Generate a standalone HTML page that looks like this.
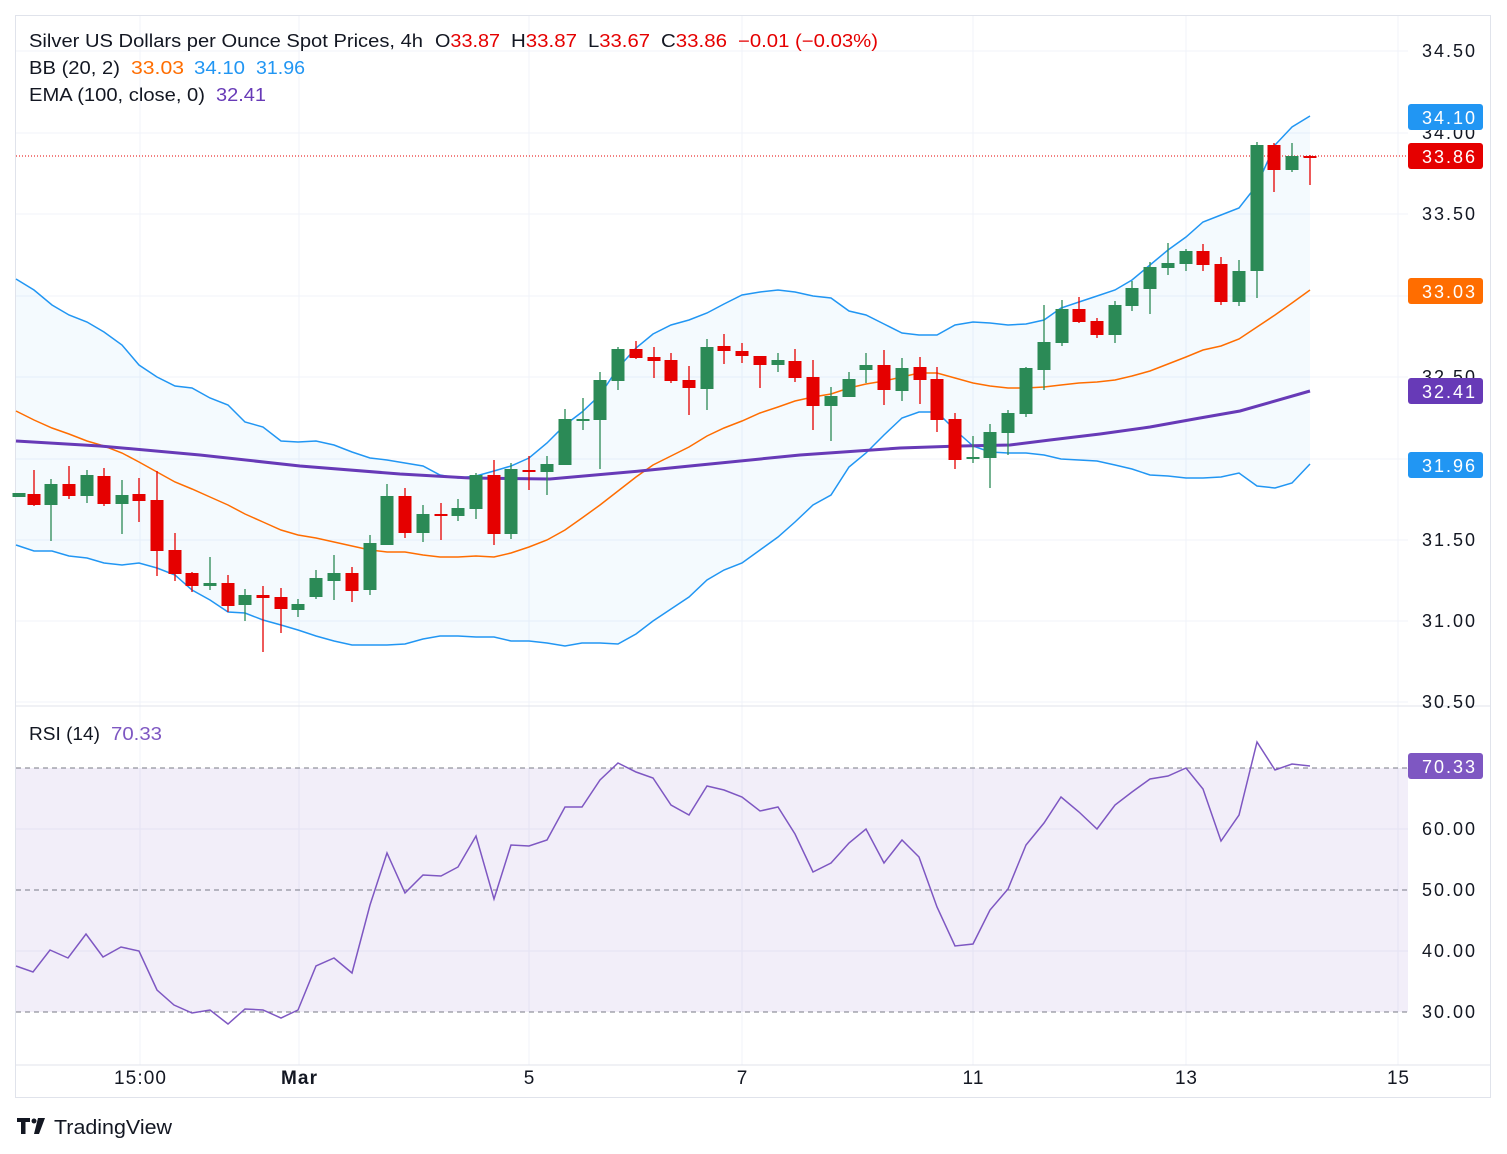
<!DOCTYPE html>
<html><head><meta charset="utf-8"><style>
html,body{margin:0;padding:0;background:#fff;}
svg{display:block;font-family:"Liberation Sans",sans-serif;}
</style></head><body>
<svg id="s" width="1507" height="1154" viewBox="0 0 1507 1154" xmlns="http://www.w3.org/2000/svg">
<rect x="15.5" y="15.5" width="1475" height="1082" fill="#fff" stroke="#e0e3eb"/>
<g id="grid" stroke="#f0f3fa" stroke-width="1"></g>
<g id="main"></g>
<line x1="16" y1="706" x2="1490" y2="706" stroke="#e0e3eb"/>
<line x1="16" y1="1065" x2="1490" y2="1065" stroke="#e0e3eb"/>
<g font-size="18" fill="#131722" lengthAdjust="spacingAndGlyphs">
<text x="29" y="47" textLength="394" lengthAdjust="spacingAndGlyphs">Silver US Dollars per Ounce Spot Prices, 4h</text>
<text x="435" y="47" textLength="65" lengthAdjust="spacingAndGlyphs">O<tspan fill="#e50000">33.87</tspan></text>
<text x="511" y="47" textLength="66" lengthAdjust="spacingAndGlyphs">H<tspan fill="#e50000">33.87</tspan></text>
<text x="588" y="47" textLength="62" lengthAdjust="spacingAndGlyphs">L<tspan fill="#e50000">33.67</tspan></text>
<text x="661" y="47" textLength="66" lengthAdjust="spacingAndGlyphs">C<tspan fill="#e50000">33.86</tspan></text>
<text x="738" y="47" fill="#e50000" textLength="140" lengthAdjust="spacingAndGlyphs">−0.01 (−0.03%)</text>
<text x="29" y="74" textLength="91" lengthAdjust="spacingAndGlyphs">BB (20, 2)</text>
<text x="131" y="74" fill="#ff6d00" textLength="53" lengthAdjust="spacingAndGlyphs">33.03</text>
<text x="194" y="74" fill="#2196f3" textLength="51" lengthAdjust="spacingAndGlyphs">34.10</text>
<text x="256" y="74" fill="#2196f3" textLength="49" lengthAdjust="spacingAndGlyphs">31.96</text>
<text x="29" y="101" textLength="176" lengthAdjust="spacingAndGlyphs">EMA (100, close, 0)</text>
<text x="216" y="101" fill="#673ab7" textLength="50" lengthAdjust="spacingAndGlyphs">32.41</text>
<text x="29" y="740" textLength="71" lengthAdjust="spacingAndGlyphs">RSI (14)</text>
<text x="111" y="740" fill="#7e57c2" textLength="51" lengthAdjust="spacingAndGlyphs">70.33</text>
</g>
<g font-size="18" fill="#131722">
<text x="1422" y="57" textLength="53">34.50</text><text x="1422" y="139" textLength="53">34.00</text><text x="1422" y="220" textLength="53">33.50</text>
<text x="1422" y="383" textLength="53">32.50</text><text x="1422" y="465" textLength="53">32.00</text><text x="1422" y="546" textLength="53">31.50</text>
<text x="1422" y="627" textLength="53">31.00</text><text x="1422" y="708" textLength="53">30.50</text>
<text x="1422" y="835" textLength="53">60.00</text><text x="1422" y="896" textLength="53">50.00</text><text x="1422" y="957" textLength="53">40.00</text><text x="1422" y="1018" textLength="53">30.00</text>
</g>
<g font-size="18" fill="#fff">
<rect x="1408" y="104" width="75" height="26" rx="3" fill="#2196f3"/><text x="1422" y="124" textLength="53">34.10</text>
<rect x="1408" y="143" width="75" height="26" rx="3" fill="#e50000"/><text x="1422" y="163" textLength="53">33.86</text>
<rect x="1408" y="278" width="75" height="26" rx="3" fill="#ff6d00"/><text x="1422" y="298" textLength="53">33.03</text>
<rect x="1408" y="378" width="75" height="26" rx="3" fill="#673ab7"/><text x="1422" y="398" textLength="53">32.41</text>
<rect x="1408" y="452" width="75" height="26" rx="3" fill="#2196f3"/><text x="1422" y="472" textLength="53">31.96</text>
<rect x="1408" y="753" width="75" height="26" rx="3" fill="#7e57c2"/><text x="1422" y="773" textLength="53">70.33</text>
</g>
<g font-size="19" fill="#131722" text-anchor="middle">
<text x="140" y="1084" textLength="52">15:00</text><text x="299" y="1084" font-weight="bold" textLength="36">Mar</text><text x="529" y="1084">5</text>
<text x="742" y="1084">7</text><text x="973" y="1084" textLength="21">11</text><text x="1186" y="1084" textLength="22">13</text><text x="1398" y="1084" textLength="22">15</text>
</g>
<g fill="#131722"><path d="M17 1118h13v4h-4.5v12h-4.5v-12h-4z"/><circle cx="34" cy="1121" r="2.5"/><path d="M38 1118h7l-6 16h-5z"/></g>
<text x="54" y="1134" font-size="20" fill="#131722" textLength="118" lengthAdjust="spacingAndGlyphs">TradingView</text>
</svg>
<script>
const NS="http://www.w3.org/2000/svg";
function el(p,t,a){const e=document.createElementNS(NS,t);for(const k in a)e.setAttribute(k,a[k]);p.appendChild(e);return e;}
const g=document.getElementById('grid'),m=document.getElementById('main');
[51,133,214,296,377,459,540,621,702,829,951].forEach(y=>el(g,'line',{x1:16,x2:1408,y1:y,y2:y}));
[140,299,529,742,973,1186,1398].forEach(x=>el(g,'line',{x1:x,x2:x,y1:16,y2:1065}));
const X=[16,34,52,69,87,104,122,139,157,175,192,210,228,245,263,281,298,316,334,352,370,387,405,423,440,458,476,494,511,529,547,565,582,600,618,636,653,671,689,707,724,742,760,778,795,813,831,849,866,884,902,919,937,955,973,990,1008,1026,1044,1061,1079,1097,1115,1132,1150,1168,1186,1203,1221,1239,1257,1275,1292,1310];
const U=[279,290,305,315,322,332,345,365,377,386,388,398,405,422,427,441,442,441,445,452,458,460,463,466,475,478,476,471,466,458,443,425,412,395,368,348,334,325,320,313,304,295,292,290,292,296,298,311,315,324,333,335,335,325,322,323,325,324,320,308,302,296,290,280,265,250,237,222,215,208,185,145,127,116];
const L=[545,551,551,556,558,563,565,563,568,575,590,600,612,613,620,625,630,636,641,645,645,645,644,639,636,636,637,637,641,641,643,646,643,643,644,634,621,609,597,580,570,563,550,537,522,505,495,467,453,435,418,412,412,430,446,452,453,453,455,459,460,461,465,469,475,476,478,478,477,473,486,488,483,464];
const M=[411,420,428,434,441,446,453,462,472,482,489,497,505,514,522,530,535,538,542,546,550,552,552,555,557,557,556,557,553,547,540,530,518,505,491,477,465,456,447,436,428,421,413,407,401,397,394,388,384,381,377,373,373,378,383,386,388,388,387,385,383,382,380,376,371,364,357,350,346,339,327,315,303,290];
function pts(xs,ys){return xs.map((x,i)=>x+','+ys[i]).join(' ');}
const n=Math.min(X.length,U.length,L.length);
let fill=[];for(let i=0;i<n;i++)fill.push(X[i]+','+U[i]);for(let i=n-1;i>=0;i--)fill.push(X[i]+','+L[i]);
el(m,'polygon',{points:fill.join(' '),fill:'rgba(33,150,243,0.05)'});
el(m,'rect',{x:16,y:768,width:1392,height:244,fill:'rgba(126,87,194,0.1)'});
[768,890,1012].forEach(y=>el(m,'line',{x1:16,x2:1408,y1:y,y2:y,stroke:'#787b86','stroke-dasharray':'5,4','stroke-width':1}));
el(m,'polyline',{points:pts(X.slice(0,n),U.slice(0,n)),fill:'none',stroke:'#2196f3','stroke-width':1.5});
el(m,'polyline',{points:pts(X.slice(0,n),L.slice(0,n)),fill:'none',stroke:'#2196f3','stroke-width':1.5});
el(m,'polyline',{points:pts(X.slice(0,M.length),M),fill:'none',stroke:'#ff6d00','stroke-width':1.5});
const E=[[16,441],[100,446],[200,455],[300,466],[400,474],[470,478],[550,479],[640,471],[700,465],[800,455],[900,448],[960,446],[1010,445],[1050,440],[1100,434],[1150,427],[1200,418],[1240,411],[1310,391]];
el(m,'polyline',{points:E.map(p=>p.join(',')).join(' '),fill:'none',stroke:'#673ab7','stroke-width':3});
el(m,'line',{x1:16,x2:1408,y1:156,y2:156,stroke:'#e50000','stroke-dasharray':'1,2','stroke-width':1});
const C=[[19,493,497,493,497,1],[34,494,505,470,506,0],[51,484,505,479,541,1],[69,484,496,466,499,0],[87,475,496,470,503,1],[104,476,504,468,506,0],[122,495,504,480,534,1],[139,494,501,478,522,0],[157,500,551,471,576,0],[175,550,574,533,581,0],[192,573,586,572,592,0],[210,583,586,557,590,1],[228,583,606,575,612,0],[245,595,605,589,621,1],[263,595,598,586,652,0],[281,597,609,588,633,0],[298,604,610,599,617,1],[316,578,597,570,599,1],[334,573,581,555,600,1],[352,573,591,567,602,0],[370,543,590,535,595,1],[387,496,545,484,545,1],[405,496,533,488,538,0],[423,514,533,505,542,1],[441,514,516,503,540,0],[458,508,516,499,521,1],[476,475,509,473,519,1],[494,475,534,460,545,0],[511,469,534,463,539,1],[529,470,472,456,490,0],[547,464,472,456,495,1],[565,419,465,409,465,1],[583,419,420,398,430,1],[600,380,420,372,469,1],[618,349,381,347,390,1],[636,349,358,341,359,0],[654,357,361,347,378,0],[671,360,381,353,383,0],[689,380,388,366,415,0],[707,347,389,339,410,1],[724,346,351,334,364,0],[742,351,356,343,363,0],[760,356,365,356,388,0],[778,360,365,353,372,1],[795,361,378,349,382,0],[813,377,406,360,430,0],[831,396,406,387,441,1],[849,379,397,372,397,1],[866,365,370,353,383,1],[884,365,390,350,405,0],[902,368,391,358,401,1],[920,367,380,357,404,0],[937,379,420,367,432,0],[955,419,460,413,469,0],[973,457,458,436,463,1],[990,432,458,424,488,1],[1008,413,433,410,455,1],[1026,368,414,367,417,1],[1044,342,370,305,390,1],[1062,309,343,300,346,1],[1079,309,322,297,323,0],[1097,321,335,318,338,0],[1115,305,335,301,343,1],[1132,288,306,281,311,1],[1150,267,289,262,314,1],[1168,263,268,243,275,1],[1186,251,264,249,271,1],[1203,251,265,244,271,0],[1221,264,302,257,305,0],[1239,271,302,260,306,1],[1257,145,271,142,298,1],[1274,145,170,143,192,0],[1292,156,170,143,172,1],[1310,156,157,155,185,0]];
C.forEach(c=>{const col=c[5]?'#2b8a56':'#e50000';
el(m,'line',{x1:c[0],x2:c[0],y1:c[3],y2:c[4],stroke:col,'stroke-width':1.3});
el(m,'rect',{x:c[0]-6.5,y:c[1],width:13,height:Math.max(2,c[2]-c[1]),fill:col});});
const R=[[16,966],[33,972],[50,950],[68,958],[86,934],[103,957],[121,947],[139,951],[157,990],[174,1005],[192,1013],[210,1010],[228,1024],[245,1009],[263,1010],[281,1018],[298,1010],[316,966],[334,958],[352,973],[370,905],[387,853],[405,893],[423,875],[441,876],[458,867],[476,836],[494,899],[511,845],[529,846],[547,840],[565,807],[582,807],[600,780],[618,763],[636,772],[653,778],[671,805],[689,815],[707,786],[724,790],[742,797],[760,811],[778,807],[795,834],[813,872],[831,863],[849,843],[866,829],[884,863],[902,840],[919,857],[937,907],[955,946],[973,944],[990,910],[1008,889],[1026,845],[1044,823],[1061,797],[1079,812],[1097,829],[1115,805],[1132,792],[1150,779],[1168,776],[1186,768],[1203,789],[1221,841],[1239,815],[1257,742],[1275,770],[1292,764],[1310,766]];
el(m,'polyline',{points:R.map(p=>p.join(',')).join(' '),fill:'none',stroke:'#7e57c2','stroke-width':1.5});
</script>
</body></html>
